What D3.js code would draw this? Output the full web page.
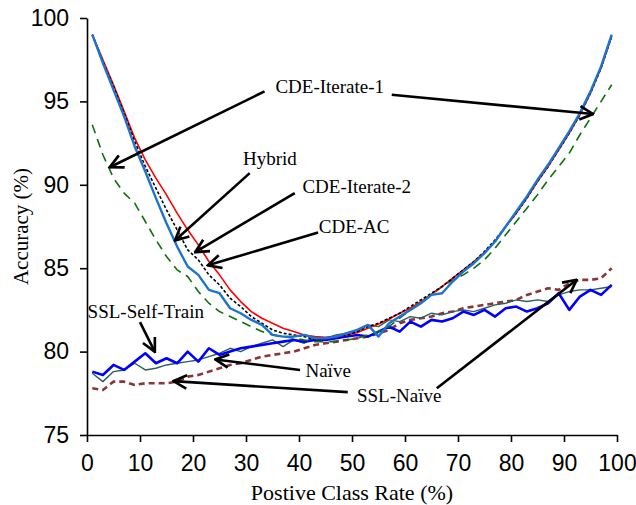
<!DOCTYPE html>
<html>
<head>
<meta charset="utf-8">
<script src="https://cdn.jsdelivr.net/npm/d3@7"></script>
<style>
  body { margin: 0; background: #fff; }
  svg { display: block; }
</style>
</head>
<body>
<div id="chart"></div>
<script>
// x positions (positive class rate, %)
var rates = d3.range(1, 100, 2);

// upper group
var cdeAC = [99.0, 97.5, 96.0, 94.4, 92.8, 91.5, 90.4, 89.4, 88.3, 87.3,
  86.4, 85.4, 84.6, 83.7, 83.0, 82.4, 82.0, 81.7, 81.4, 81.2,
  81.0, 80.9, 80.85, 80.9, 81.0, 81.15, 81.4, 81.65, 81.95, 82.3,
  82.6, 83.0, 83.45, 83.9, 84.4, 84.9, 85.4, 85.95, 86.6, 87.5,
  88.3, 89.2, 90.2, 91.1, 92.1, 93.1, 94.2, 95.5, 97.0, 98.9];
var hybrid = [99.0, 97.3, 95.7, 94.1, 92.3, 90.8, 89.2, 87.7, 86.3, 85.1,
  84.6, 83.7, 83.5, 82.6, 82.3, 81.9, 81.6, 81.0, 80.9, 80.9,
  81.0, 80.8, 80.8, 80.9, 81.1, 81.3, 81.6, 80.9, 81.7, 82.1,
  82.5, 82.9, 83.4, 83.5, 84.2, 84.8, 85.3, 85.9, 86.6, 87.5,
  88.4, 89.3, 90.3, 91.2, 92.2, 93.2, 94.3, 95.6, 97.1, 99.0];
var cdeIter2 = [99.0, 97.4, 95.9, 94.3, 92.6, 91.1, 89.8, 88.5, 87.3, 86.1,
  85.5, 84.6, 84.0, 83.2, 82.7, 82.1, 81.7, 81.3, 81.1, 81.0,
  80.9, 80.7, 80.8, 80.9, 81.0, 81.2, 81.5, 81.7, 82.0, 82.3,
  82.7, 83.1, 83.5, 83.9, 84.4, 84.9, 85.4, 86.0, 86.7, 87.5,
  88.3, 89.2, 90.2, 91.1, 92.1, 93.1, 94.2, 95.5, 97.0, 98.9];
var cdeIter1 = [93.6, 91.8, 90.4, 89.5, 88.9, 87.8, 86.7, 85.7, 84.9, 84.5,
  83.6, 82.9, 82.4, 82.1, 81.8, 81.5, 81.2, 81.0, 80.9, 80.8,
  80.7, 80.6, 80.6, 80.6, 80.7, 80.8, 81.0, 81.2, 81.5, 82.0,
  82.5, 82.9, 83.4, 83.9, 84.3, 84.6, 85.0, 85.5, 86.2, 87.0,
  87.8, 88.6, 89.4, 90.3, 91.1, 91.9, 93.0, 94.0, 95.0, 96.0];

// lower group
var sslSelfTrain = [78.8, 78.6, 79.2, 78.9, 79.4, 79.9, 79.3, 79.6, 79.3, 80.0,
  79.4, 80.2, 79.8, 80.0, 80.2, 80.3, 80.4, 80.5, 80.6, 80.7,
  80.6, 80.7, 80.7, 80.8, 80.9, 81.0, 80.9, 81.2, 81.5, 81.2,
  81.8, 81.5, 81.9, 81.8, 82.0, 82.4, 82.2, 82.5, 82.1, 82.6,
  82.7, 82.4, 82.6, 82.9, 83.5, 82.5, 83.3, 83.7, 83.4, 84.0];
var naive = [78.7, 78.2, 78.8, 78.9, 79.3, 78.9, 79.0, 79.2, 79.3, 79.4,
  79.5, 79.7, 79.9, 80.2, 80.0, 80.3, 80.5, 80.7, 80.3, 80.7,
  80.5, 80.9, 80.8, 81.0, 81.1, 81.2, 81.6, 81.5, 81.9, 81.8,
  82.1, 82.0, 82.3, 82.2, 82.4, 82.5, 82.4, 82.6, 82.8, 82.9,
  83.1, 83.0, 83.1, 83.0, 83.4, 83.6, 83.7, 83.7, 83.8, 83.9];
var sslNaive = [77.8, 77.7, 78.2, 78.2, 78.0, 78.1, 78.1, 78.1, 78.2, 78.5,
  78.6, 78.8, 79.0, 79.2, 79.3, 79.5, 79.7, 79.8, 79.9, 80.0,
  80.2, 80.4, 80.5, 80.6, 80.7, 80.8, 80.9, 81.1, 81.3, 81.7,
  81.9, 82.0, 82.1, 82.3, 82.4, 82.6, 82.7, 82.8, 82.9, 83.0,
  83.1, 83.4, 83.6, 83.8, 83.7, 84.1, 84.3, 84.3, 84.4, 85.0];

var xTicks = d3.range(0, 101, 10);
var yTicks = [75, 80, 85, 90, 95, 100];

// annotation labels: text anchor point and arrows (from -> to), in data units
var notes = [
  {text: "CDE-Iterate-1", x: 45.8, y: 95.9, arrows: [[33.5, 95.6, 4.3, 91.05], [57.5, 95.4, 95.5, 94.24]]},
  {text: "Hybrid", x: 34.5, y: 91.6, arrows: [[30.7, 90.7, 16.6, 86.66]]},
  {text: "CDE-Iterate-2", x: 50.9, y: 89.9, arrows: [[39.2, 89.5, 20.4, 85.96]]},
  {text: "CDE-AC", x: 50.4, y: 87.5, arrows: [[43.6, 87.14, 22.8, 85.17]]},
  {text: "SSL-Self-Train", x: 11.1, y: 82.4, arrows: [[10.0, 81.77, 12.8, 79.98]]},
  {text: "Naïve", x: 45.5, y: 78.9, arrows: [[40.2, 78.9, 24.2, 79.53]]},
  {text: "SSL-Naïve", x: 58.9, y: 77.35, arrows: [[49.2, 77.57, 16.3, 78.23], [66.0, 77.8, 92.4, 84.31]]}
];

var W = 636, H = 505;
var margin = {top: 18, right: 19, bottom: 70, left: 87};

var svg = d3.select('#chart').append('svg')
  .attr('width', W)
  .attr('height', H);

var x = d3.scaleLinear().domain([0, 100]).range([margin.left, W - margin.right]);
var y = d3.scaleLinear().domain([75, 100]).range([H - margin.bottom, margin.top]);

// axes
var xAxis = svg.append('g')
  .attr('transform', 'translate(0,' + y(75) + ')')
  .call(d3.axisBottom(x).tickValues(xTicks).tickSize(7).tickPadding(13).tickSizeOuter(0));
var yAxis = svg.append('g')
  .attr('transform', 'translate(' + x(0) + ',0)')
  .call(d3.axisLeft(y).tickValues(yTicks).tickSize(7).tickPadding(11).tickSizeOuter(0));

[xAxis, yAxis].forEach(function(g) {
  g.selectAll('path, line').attr('stroke', '#000').attr('stroke-width', 1.6);
  g.selectAll('text')
    .attr('fill', '#000')
    .style('font-family', 'Liberation Sans, Arial, sans-serif')
    .style('font-size', '23px');
});

svg.append('text')
  .attr('x', x(50))
  .attr('y', H - 5)
  .attr('text-anchor', 'middle')
  .style('font-family', 'Liberation Serif, Times New Roman, serif')
  .style('font-size', '22px')
  .text('Postive Class Rate (%)');

svg.append('text')
  .attr('transform', 'translate(28,' + y(87.5) + ') rotate(-90)')
  .attr('text-anchor', 'middle')
  .style('font-family', 'Liberation Serif, Times New Roman, serif')
  .style('font-size', '21px')
  .text('Accuracy (%)');

// series
var series = [
  {values: sslNaive, color: '#8b3535', width: 2.6, dash: '6,4'},
  {values: naive, color: '#2f5f5b', width: 1.4, dash: null},
  {values: sslSelfTrain, color: '#0000ff', width: 2.6, dash: null},
  {values: cdeIter1, color: '#107010', width: 1.6, dash: '9,6'},
  {values: cdeAC, color: '#ff0000', width: 1.6, dash: null},
  {values: cdeIter2, color: '#000000', width: 1.6, dash: '3,2'},
  {values: hybrid, color: '#1a74d2', width: 2.4, dash: null}
];

var line = d3.line()
  .x(function(d) { return x(d[0]); })
  .y(function(d) { return y(d[1]); });

series.forEach(function(s) {
  svg.append('path')
    .datum(rates.map(function(r, i) { return [r, s.values[i]]; }))
    .attr('fill', 'none')
    .attr('stroke', s.color)
    .attr('stroke-width', s.width)
    .attr('stroke-dasharray', s.dash)
    .attr('stroke-linejoin', 'round')
    .attr('d', line);
});

// arrows
svg.append('defs').append('marker')
  .attr('id', 'arrow')
  .attr('viewBox', '0 0 12 12')
  .attr('refX', 11)
  .attr('refY', 6)
  .attr('markerWidth', 16)
  .attr('markerHeight', 16)
  .attr('markerUnits', 'userSpaceOnUse')
  .attr('orient', 'auto')
  .append('path')
  .attr('d', 'M1,1 L11,6 L1,11')
  .attr('fill', 'none')
  .attr('stroke', '#000')
  .attr('stroke-width', 2);

notes.forEach(function(n) {
  n.arrows.forEach(function(a) {
    svg.append('line')
      .attr('x1', x(a[0])).attr('y1', y(a[1]))
      .attr('x2', x(a[2])).attr('y2', y(a[3]))
      .attr('stroke', '#000')
      .attr('stroke-width', 2.6)
      .attr('marker-end', 'url(#arrow)');
  });
  svg.append('text')
    .attr('x', x(n.x))
    .attr('y', y(n.y))
    .attr('dy', '0.35em')
    .attr('text-anchor', 'middle')
    .style('font-family', 'Liberation Serif, Times New Roman, serif')
    .style('font-size', '19px')
    .text(n.text);
});
</script>
</body>
</html>
